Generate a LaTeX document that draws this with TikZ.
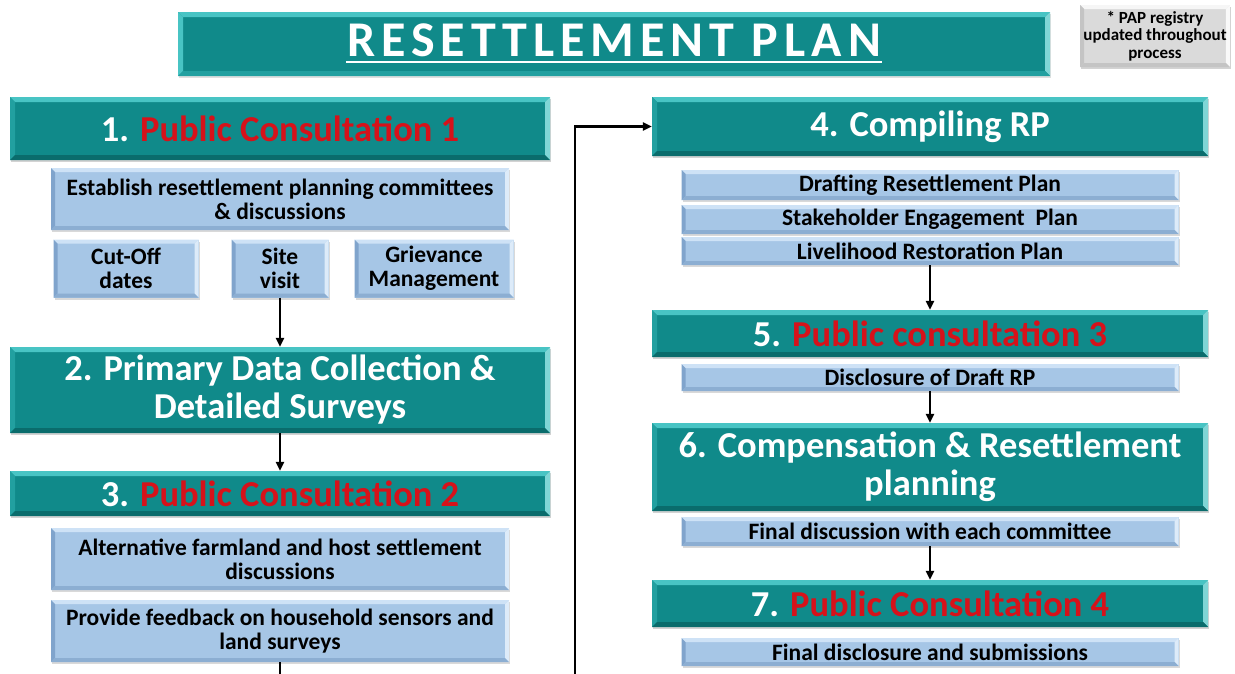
\documentclass[tikz,border=0pt]{standalone}
\usepackage{fontspec}
\setmainfont{Carlito}
\usetikzlibrary{arrows.meta, positioning, shadows}
\definecolor{tealbox}{RGB}{16,138,138}
\definecolor{tealtop}{RGB}{72,196,196}
\definecolor{tealside}{RGB}{34,160,160}
\definecolor{tealbot}{RGB}{10,108,108}
\definecolor{bluebox}{RGB}{166,198,230}
\definecolor{bluetop}{RGB}{206,226,246}
\definecolor{blueside}{RGB}{128,164,204}
\definecolor{bluebot}{RGB}{140,174,210}
\definecolor{redhead}{RGB}{214,18,26}
\definecolor{greybox}{RGB}{218,218,218}
\definecolor{greytop}{RGB}{246,246,246}
\definecolor{greyside}{RGB}{196,196,196}
\newcommand*{\redtxt}[1]{\textcolor{redhead}{#1}}
% bevelled edges: #1 depth, #2 top, #3 left, #4 right and bottom
\newcommand*{\bevelfill}[4]{%
  \fill[#2] (path picture bounding box.north west) -- (path picture bounding box.north east)
    -- ([shift={(-#1,-#1)}]path picture bounding box.north east)
    -- ([shift={(#1,-#1)}]path picture bounding box.north west) -- cycle;
  \fill[#3] (path picture bounding box.north west) -- ([shift={(#1,-#1)}]path picture bounding box.north west)
    -- ([shift={(#1,#1)}]path picture bounding box.south west) -- (path picture bounding box.south west) -- cycle;
  \fill[#2!70!white] (path picture bounding box.north east) -- ([shift={(-#1,-#1)}]path picture bounding box.north east)
    -- ([shift={(-#1,#1)}]path picture bounding box.south east) -- (path picture bounding box.south east) -- cycle;
  \fill[#4] (path picture bounding box.south west) -- ([shift={(#1,#1)}]path picture bounding box.south west)
    -- ([shift={(-#1,#1)}]path picture bounding box.south east) -- (path picture bounding box.south east) -- cycle;}

\begin{document}
\begin{tikzpicture}[x=1pt, y=-1pt, node distance=1cm, on grid, >={Triangle[length=9pt,width=8pt]},
      head/.style={fill=tealbox, minimum width=540pt, path picture={\bevelfill{5pt}{tealtop}{tealside}{tealbot}},
        text=white, font=\fontsize{36.5}{38}\selectfont\bfseries, align=center, inner sep=2pt,
        drop shadow={opacity=0.35, shadow xshift=1pt, shadow yshift=-2pt}},
      righthead/.style={head, minimum width=556pt},
      subbox/.style={fill=bluebox, minimum width=458pt, path picture={\bevelfill{4pt}{bluetop}{blueside}{bluebot}},
        font=\fontsize{23.5}{24}\selectfont\bfseries, align=center, inner sep=1pt,
        drop shadow={opacity=0.3, shadow xshift=1pt, shadow yshift=-2pt}},
      rightsub/.style={subbox, minimum width=497pt},
      flow/.style={->, line width=2.2pt}]
      \useasboundingbox (0,0) rectangle (1235,673);
      % title
      \node[fill=tealbox, minimum width=872pt, minimum height=64pt,
        path picture={\bevelfill{5pt}{tealtop}{tealtop}{tealside}},
        drop shadow={opacity=0.25, shadow xshift=1pt, shadow yshift=-2pt}] (title) at (614,44) {};
      \node[text=white, font=\fontsize{50}{51}\selectfont\bfseries\addfontfeature{LetterSpace=12}, inner sep=1pt]
        (ttl) at (614,40) {RESETTLEMENT PLAN};
      \draw[white, line width=2.5pt] ([yshift=-4pt]ttl.south west) -- ([yshift=-4pt]ttl.south east);
      \node[fill=greybox, minimum width=146pt, minimum height=62pt,
        path picture={\bevelfill{4pt}{greytop}{greyside}{greyside}},
        font=\fontsize{17}{17.5}\selectfont\bfseries, align=center,
        drop shadow={opacity=0.35, shadow xshift=1pt, shadow yshift=-2pt}] (pap) at (1155,36)
        {* PAP registry\\updated throughout\\process};
      % left column
      \node[head, minimum height=63pt] (h1) at (280,128.5) {1. \redtxt{Public Consultation 1}};
      \node[subbox, minimum height=62pt] (est) [below=70.5pt of h1]
        {Establish resettlement planning committees\\\& discussions};
      \node[subbox, minimum width=97pt, minimum height=58pt] (site) [below=140pt of h1] {Site\\visit};
      \node[subbox, minimum width=145pt, minimum height=58pt] (cut) [left=154pt of site] {Cut-Off\\dates};
      \node[subbox, minimum width=159pt, minimum height=58pt] (griev) [right=154pt of site] {Grievance\\Management};
      \node[head, minimum height=86pt] (h2) [below=121.5pt of site] {2. Primary Data Collection \&\\Detailed Surveys};
      \node[head, minimum height=45pt] (h3) [below=103.5pt of h2] {3. \redtxt{Public Consultation 2}};
      \node[subbox, minimum height=62pt] (alt) [below=65.5pt of h3]
        {Alternative farmland and host settlement\\discussions};
      \node[subbox, minimum height=62pt] (prov) [below=72pt of alt]
        {Provide feedback on household sensors and\\land surveys};
      % right column
      \node[righthead, minimum height=59pt] (h4) at (930,126.5) {4. Compiling RP};
      \node[rightsub, minimum height=30pt] (draft) [below=58.5pt of h4] {Drafting Resettlement Plan};
      \node[rightsub, minimum height=29pt] (seng) [below=34.5pt of draft] {Stakeholder Engagement\ \ Plan};
      \node[rightsub, minimum height=28pt] (lrp) [below=31.5pt of seng] {Livelihood Restoration Plan};
      \node[righthead, minimum height=47pt] (h5) [below=82.5pt of lrp] {5. \redtxt{Public consultation 3}};
      \node[rightsub, minimum height=27pt] (disc) [below=44pt of h5] {Disclosure of Draft RP};
      \node[righthead, minimum height=88pt] (h6) [below=89.5pt of disc] {6. Compensation \& Resettlement\\planning};
      \node[rightsub, minimum height=29pt] (fin) [below=64.5pt of h6] {Final discussion with each committee};
      \node[righthead, minimum height=47pt] (h7) [below=72pt of fin] {7. \redtxt{Public Consultation 4}};
      \node[rightsub, minimum height=28pt] (subm) [below=48.5pt of h7] {Final disclosure and submissions};
      % connectors
      \coordinate (turn) at (575,690);
      \path[flow]
      (site) edge (h2)
      (h2) edge (h3)
      (lrp) edge (h5)
      (disc) edge (h6)
      (fin) edge (h7);
      \draw[flow] (prov.south) |- (turn) |- (h4.west);
    \end{tikzpicture}
\end{document}
